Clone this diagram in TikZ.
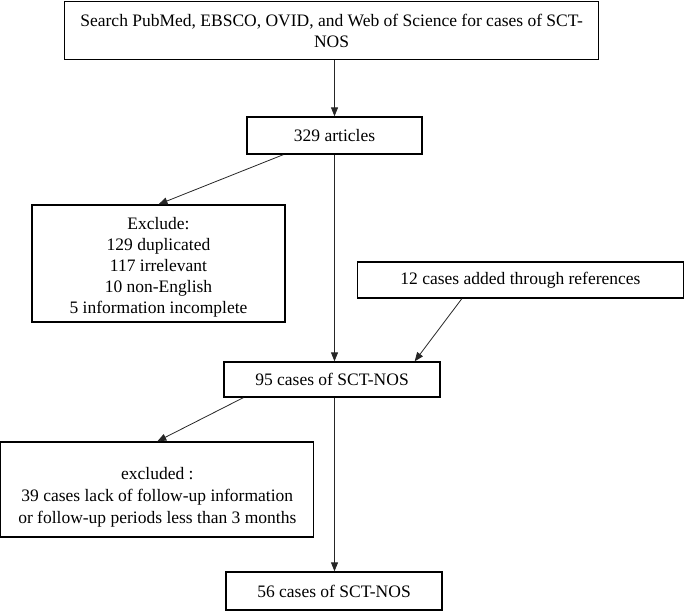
\documentclass[tikz,border=0pt]{standalone}
\usepackage{fontspec}
\setmainfont{Liberation Serif}
\usetikzlibrary{arrows.meta}
\begin{document}
\begin{tikzpicture}[x=1pt,y=-1pt,
  box/.style={draw=black,line width=1.3pt,inner sep=0pt,align=center,
    font=\fontsize{17.5}{21}\selectfont},
  conn/.style={draw=black!85,line width=0.8pt,-{Triangle[length=9pt,width=7pt]}}]
\useasboundingbox (0,0) rectangle (685,611);
\node[box,minimum width=534pt,minimum height=58pt] (s) at (331.6,30.5)
  {Search PubMed, EBSCO, OVID, and Web of Science for cases of SCT-\\NOS};
\node[box,minimum width=175pt,minimum height=37pt] (a) at (334.5,135.5) {329 articles};
\node[box,minimum width=253pt,minimum height=117pt] (ex1) at (158.5,263.5)
  {\raisebox{-8.4pt}[0pt][0pt]{\parbox{253pt}{\centering Exclude:\\129 duplicated\\117 irrelevant\\10 non-English\\5 information incomplete}}};
\node[box,minimum width=326pt,minimum height=36pt] (ref) at (520.5,280) {12 cases added through references};
\node[box,minimum width=216pt,minimum height=35pt] (c95) at (332,379.5) {95 cases of SCT-NOS};
\node[box,minimum width=313pt,minimum height=95pt] (ex2) at (157.3,489.5)
  {\raisebox{-12pt}[0pt][0pt]{\parbox{313pt}{\centering\fontsize{17.5}{22}\selectfont excluded :\\39 cases lack of follow-up information\\or follow-up periods less than 3 months}}};
\node[box,minimum width=216pt,minimum height=38pt] (c56) at (334,591) {56 cases of SCT-NOS};
\draw[conn] (a.north |- s.south) -- (a.north);
\draw[conn] ([xshift=37pt]a.south west) -- (ex1.north);
\draw[conn] (a.south) -- (a.south |- c95.north);
\draw[conn] ([xshift=105pt]ref.south west) -- ([xshift=-26pt]c95.north east);
\draw[conn] ([xshift=20pt]c95.south west) -- (ex2.north);
\draw[conn] (a.south |- c95.south) -- (a.south |- c56.north);
\end{tikzpicture}
\end{document}
